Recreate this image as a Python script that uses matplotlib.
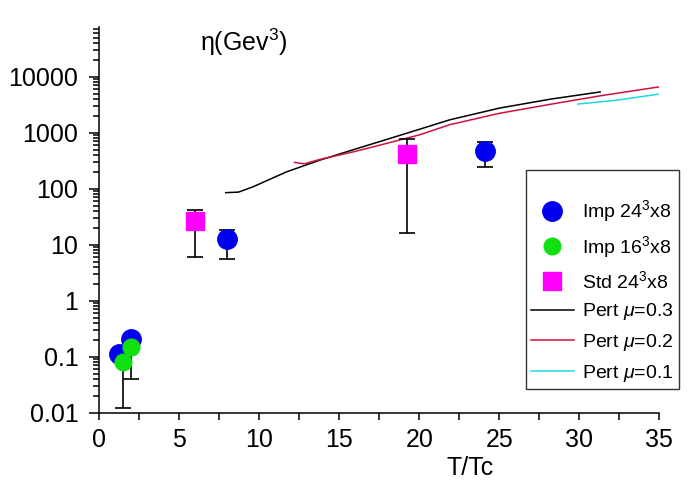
import numpy as np
import matplotlib
matplotlib.use("Agg")
import matplotlib.pyplot as plt
from matplotlib.ticker import LogLocator, MultipleLocator, FuncFormatter, NullFormatter

plt.rcParams["font.family"] = ["Liberation Sans", "DejaVu Sans"]
plt.rcParams["mathtext.fontset"] = "custom"
plt.rcParams["mathtext.rm"] = "Liberation Sans"
plt.rcParams["mathtext.it"] = "Liberation Sans:italic"

# lattice data: T/Tc, eta, lower / upper end of error bar
imp24_T = np.array([1.25, 2.0, 8.0, 24.1])
imp24_eta = np.array([0.11, 0.21, 12.5, 475])
imp24_lo = np.array([0.11, 0.21, 5.6, 240])
imp24_hi = np.array([0.11, 0.21, 18, 680])

imp16_T = np.array([1.5, 2.0])
imp16_eta = np.array([0.08, 0.15])
imp16_lo = np.array([0.0123, 0.04])
imp16_hi = np.array([0.08, 0.15])

std24_T = np.array([6.0, 19.2])
std24_eta = np.array([26, 420])
std24_lo = np.array([6.1, 16.5])
std24_hi = np.array([41, 770])

# perturbative curves
pert03_T = [7.9, 8.7, 9.6, 11.7, 13.8, 15.9, 18.0, 20.0, 21.9, 25.0, 28.2, 31.3]
pert03 = [85, 87, 108, 200, 325, 500, 765, 1150, 1700, 2750, 3980, 5350]
pert02_T = [12.2, 12.8, 13.8, 15.9, 18.0, 20.0, 21.9, 25.0, 28.0, 31.3, 35.0]
pert02 = [295, 278, 335, 457, 650, 915, 1390, 2220, 3150, 4560, 6600]
pert01_T = [29.9, 32.3, 35.0]
pert01 = [3250, 3800, 4900]

fig = plt.figure(figsize=(6.97, 4.82), dpi=100)
ax = fig.add_axes([0.1425, 0.1438, 0.946 - 0.1425, 0.80])

ax.plot(pert03_T, pert03, color="black", lw=1.1, label=r"Pert $\mu$=0.3")
ax.plot(pert02_T, pert02, color="#d01040", lw=1.1, label=r"Pert $\mu$=0.2")
ax.plot(pert01_T, pert01, color="#20d8e0", lw=1.1, label=r"Pert $\mu$=0.1")

for T, v, lo, hi in [(imp24_T, imp24_eta, imp24_lo, imp24_hi),
                     (imp16_T, imp16_eta, imp16_lo, imp16_hi),
                     (std24_T, std24_eta, std24_lo, std24_hi)]:
    ax.errorbar(T, v, yerr=[v - lo, hi - v], fmt="none", ecolor="black",
                elinewidth=1.2, capsize=6, capthick=1.2, zorder=2)

ax.plot(imp24_T, imp24_eta, "o", color="#0000f0", ms=14, ls="none",
        label=r"Imp 24$^{3}$x8", zorder=3)
ax.plot(imp16_T, imp16_eta, "o", color="#10e010", ms=12, ls="none",
        label=r"Imp 16$^{3}$x8", zorder=4)
ax.plot(std24_T, std24_eta, "s", color="#ff00ff", ms=13, ls="none",
        label=r"Std 24$^{3}$x8", zorder=3)

ax.set_yscale("log")
ax.set_xlim(0, 35)
ax.set_ylim(0.01, 7.7e4)
ax.xaxis.set_major_locator(MultipleLocator(5))
ax.xaxis.set_minor_locator(MultipleLocator(2.5))
ax.yaxis.set_major_locator(LogLocator(base=10, numticks=20))
ax.yaxis.set_minor_locator(LogLocator(base=10, subs=np.arange(2, 10), numticks=20))
ax.yaxis.set_major_formatter(FuncFormatter(lambda v, p: f"{v:g}"))
ax.yaxis.set_minor_formatter(NullFormatter())

ax.tick_params(axis="both", which="both", direction="out", width=1.1, labelsize=18)
ax.tick_params(axis="y", which="major", length=7, pad=8)
ax.tick_params(axis="y", which="minor", length=4)
ax.tick_params(axis="x", which="both", length=5, pad=6)
ax.spines[["top", "right"]].set_visible(False)
for s in ["left", "bottom"]:
    ax.spines[s].set_linewidth(1.1)

fig.text(244 / 697, 1 - 42 / 482, r"η(Gev$^{3}$)", fontsize=18, ha="center", va="center")
fig.text(470 / 697, 1 - 468 / 482, "T/Tc", fontsize=18, ha="center", va="center")

handles, labels = ax.get_legend_handles_labels()
order = [3, 4, 5, 0, 1, 2]
leg = ax.legend([handles[i] for i in order], [labels[i] for i in order],
                loc="upper left", bbox_to_anchor=(526 / 697, 1 - 170 / 482),
                bbox_transform=fig.transFigure, fontsize=14, frameon=True,
                fancybox=False, edgecolor="black", borderpad=0.25,
                handlelength=2.2, handletextpad=0.45, labelspacing=0.5,
                borderaxespad=0, title=" ", title_fontsize=11)
leg.get_frame().set_linewidth(1.0)

fig.savefig("out.png", dpi=100)
